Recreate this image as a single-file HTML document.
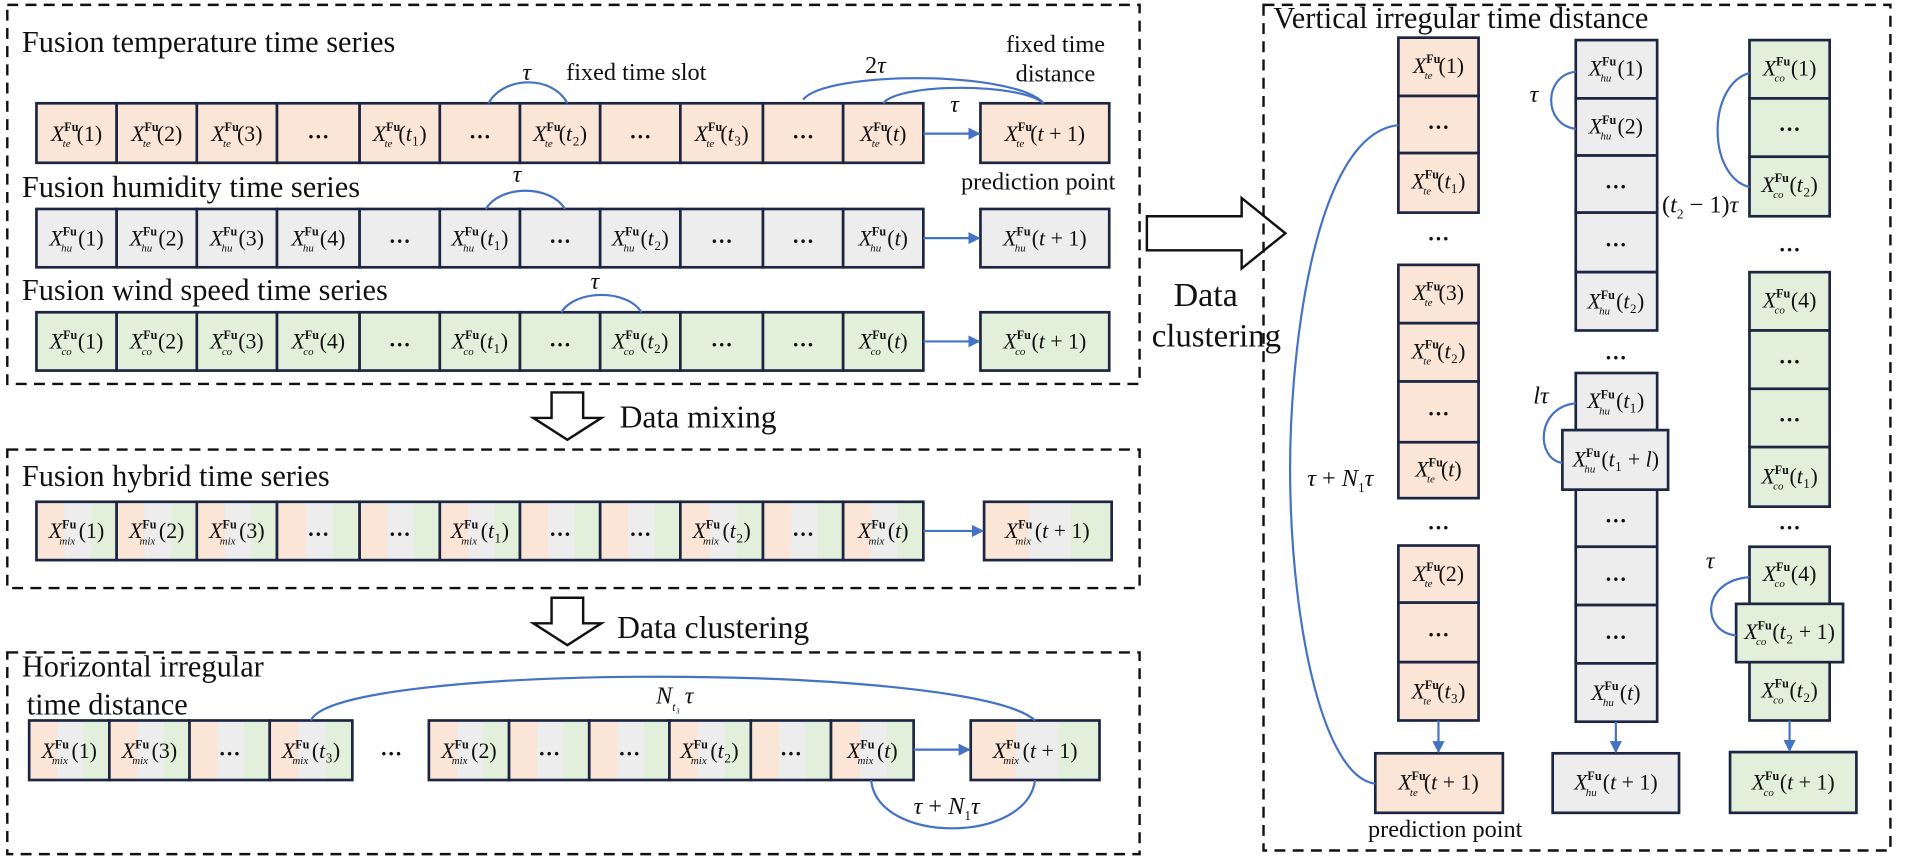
<!DOCTYPE html>
<html><head><meta charset="utf-8"><style>
html,body{margin:0;padding:0;background:#fff}
svg{display:block}
text{font-family:"Liberation Serif",serif;fill:#111}
.t{font-size:25px}
.m{font-size:18px;text-anchor:middle}
.i{font-style:italic}
.s{font-size:10px;font-weight:bold}
.b{font-size:9px;font-style:italic}
.d{font-size:18px;text-anchor:middle;font-weight:bold}
.dash{fill:none;stroke:#111;stroke-width:2;stroke-dasharray:9 6}
.o{fill:#fbe5d6;stroke:#1c2541;stroke-width:2.2}
.g{fill:#ededed;stroke:#1c2541;stroke-width:2.2}
.n{fill:#e2efda;stroke:#1c2541;stroke-width:2.2}
.x{fill:url(#mx);stroke:#1c2541;stroke-width:2.2}
.a{fill:none;stroke:#4472c4;stroke-width:1.8}
.big{fill:#fff;stroke:#111;stroke-width:2}
</style></head><body>
<svg width="1905" height="859" viewBox="0 0 1568 707" preserveAspectRatio="none" xmlns="http://www.w3.org/2000/svg">
<defs>
<linearGradient id="mx" x1="0" x2="1" y1="0" y2="0">
<stop offset="0" stop-color="#fbe5d6"/><stop offset="0.35" stop-color="#fbe5d6"/>
<stop offset="0.35" stop-color="#ededed"/><stop offset="0.68" stop-color="#ededed"/>
<stop offset="0.68" stop-color="#e2efda"/><stop offset="1" stop-color="#e2efda"/>
</linearGradient>
<marker id="ar" markerWidth="10" markerHeight="10" refX="9" refY="5" orient="auto" markerUnits="userSpaceOnUse"><path d="M0,0 L10,5 L0,10 z" fill="#4472c4"/></marker>
</defs>

<!-- Top box -->
<rect class="dash" x="6" y="4" width="932" height="312"/>
<text class="t" x="18" y="43">Fusion temperature time series</text>
<text class="t" x="18" y="162">Fusion humidity time series</text>
<text class="t" x="18" y="247">Fusion wind speed time series</text>

<!-- Row1 temperature -->
<g>
<rect class="o" x="30" y="85" width="66" height="49"/><rect class="o" x="96" y="85" width="66" height="49"/><rect class="o" x="162" y="85" width="66" height="49"/><rect class="o" x="228" y="85" width="68" height="49"/><rect class="o" x="296" y="85" width="66" height="49"/><rect class="o" x="362" y="85" width="66" height="49"/><rect class="o" x="428" y="85" width="66" height="49"/><rect class="o" x="494" y="85" width="66" height="49"/><rect class="o" x="560" y="85" width="68" height="49"/><rect class="o" x="628" y="85" width="66" height="49"/><rect class="o" x="694" y="85" width="66" height="49"/>
<rect class="o" x="807" y="85" width="106" height="49"/>
</g>
<text class="m" x="63" y="116"><tspan class="i">X</tspan><tspan class="s" dy="-8">Fu</tspan><tspan class="b" dx="-13" dy="13">te</tspan><tspan dx="5" dy="-5">(1)</tspan></text>
<text class="m" x="129" y="116"><tspan class="i">X</tspan><tspan class="s" dy="-8">Fu</tspan><tspan class="b" dx="-13" dy="13">te</tspan><tspan dx="5" dy="-5">(2)</tspan></text>
<text class="m" x="195" y="116"><tspan class="i">X</tspan><tspan class="s" dy="-8">Fu</tspan><tspan class="b" dx="-13" dy="13">te</tspan><tspan dx="5" dy="-5">(3)</tspan></text>
<text class="d" x="262" y="114">…</text>
<text class="m" x="329" y="116"><tspan class="i">X</tspan><tspan class="s" dy="-8">Fu</tspan><tspan class="b" dx="-13" dy="13">te</tspan><tspan dx="5" dy="-5">(<tspan class="i">t</tspan>₁)</tspan></text>
<text class="d" x="395" y="114">…</text>
<text class="m" x="461" y="116"><tspan class="i">X</tspan><tspan class="s" dy="-8">Fu</tspan><tspan class="b" dx="-13" dy="13">te</tspan><tspan dx="5" dy="-5">(<tspan class="i">t</tspan>₂)</tspan></text>
<text class="d" x="527" y="114">…</text>
<text class="m" x="594" y="116"><tspan class="i">X</tspan><tspan class="s" dy="-8">Fu</tspan><tspan class="b" dx="-13" dy="13">te</tspan><tspan dx="5" dy="-5">(<tspan class="i">t</tspan>₃)</tspan></text>
<text class="d" x="661" y="114">…</text>
<text class="m" x="727" y="116"><tspan class="i">X</tspan><tspan class="s" dy="-8">Fu</tspan><tspan class="b" dx="-13" dy="13">te</tspan><tspan dx="5" dy="-5">(<tspan class="i">t</tspan>)</tspan></text>
<text class="m" x="860" y="116"><tspan class="i">X</tspan><tspan class="s" dy="-8">Fu</tspan><tspan class="b" dx="-13" dy="13">te</tspan><tspan dx="5" dy="-5">(<tspan class="i">t</tspan> + 1)</tspan></text>
<line class="a" x1="760" y1="110" x2="806" y2="110" marker-end="url(#ar)"/>
<path class="a" d="M402,85 C415,62 455,62 467,85"/>
<text class="t i" x="430" y="66" style="font-size:20px">τ</text>
<text class="t" x="466" y="66" style="font-size:20px">fixed time slot</text>
<path class="a" d="M661,82 C680,58 835,58 859,85"/>
<path class="a" d="M727,85 C740,68 840,68 859,85"/>
<text class="t" x="712" y="60" style="font-size:20px">2<tspan class="i">τ</tspan></text>
<text class="t i" x="782" y="92" style="font-size:20px">τ</text>
<text class="t" x="828" y="43" style="font-size:20px">fixed time</text>
<text class="t" x="836" y="67" style="font-size:20px">distance</text>
<text class="t" x="791" y="156" style="font-size:20px">prediction point</text>

<!-- Row2 humidity -->
<g>
<rect class="g" x="30" y="172" width="66" height="48"/><rect class="g" x="96" y="172" width="66" height="48"/><rect class="g" x="162" y="172" width="66" height="48"/><rect class="g" x="228" y="172" width="68" height="48"/><rect class="g" x="296" y="172" width="66" height="48"/><rect class="g" x="362" y="172" width="66" height="48"/><rect class="g" x="428" y="172" width="66" height="48"/><rect class="g" x="494" y="172" width="66" height="48"/><rect class="g" x="560" y="172" width="68" height="48"/><rect class="g" x="628" y="172" width="66" height="48"/><rect class="g" x="694" y="172" width="66" height="48"/>
<rect class="g" x="807" y="172" width="106" height="48"/>
</g>
<text class="m" x="63" y="202"><tspan class="i">X</tspan><tspan class="s" dy="-8">Fu</tspan><tspan class="b" dx="-13" dy="13">hu</tspan><tspan dx="5" dy="-5">(1)</tspan></text>
<text class="m" x="129" y="202"><tspan class="i">X</tspan><tspan class="s" dy="-8">Fu</tspan><tspan class="b" dx="-13" dy="13">hu</tspan><tspan dx="5" dy="-5">(2)</tspan></text>
<text class="m" x="195" y="202"><tspan class="i">X</tspan><tspan class="s" dy="-8">Fu</tspan><tspan class="b" dx="-13" dy="13">hu</tspan><tspan dx="5" dy="-5">(3)</tspan></text>
<text class="m" x="262" y="202"><tspan class="i">X</tspan><tspan class="s" dy="-8">Fu</tspan><tspan class="b" dx="-13" dy="13">hu</tspan><tspan dx="5" dy="-5">(4)</tspan></text>
<text class="d" x="329" y="200">…</text>
<text class="m" x="395" y="202"><tspan class="i">X</tspan><tspan class="s" dy="-8">Fu</tspan><tspan class="b" dx="-13" dy="13">hu</tspan><tspan dx="5" dy="-5">(<tspan class="i">t</tspan>₁)</tspan></text>
<text class="d" x="461" y="200">…</text>
<text class="m" x="527" y="202"><tspan class="i">X</tspan><tspan class="s" dy="-8">Fu</tspan><tspan class="b" dx="-13" dy="13">hu</tspan><tspan dx="5" dy="-5">(<tspan class="i">t</tspan>₂)</tspan></text>
<text class="d" x="594" y="200">…</text>
<text class="d" x="661" y="200">…</text>
<text class="m" x="727" y="202"><tspan class="i">X</tspan><tspan class="s" dy="-8">Fu</tspan><tspan class="b" dx="-13" dy="13">hu</tspan><tspan dx="5" dy="-5">(<tspan class="i">t</tspan>)</tspan></text>
<text class="m" x="860" y="202"><tspan class="i">X</tspan><tspan class="s" dy="-8">Fu</tspan><tspan class="b" dx="-13" dy="13">hu</tspan><tspan dx="5" dy="-5">(<tspan class="i">t</tspan> + 1)</tspan></text>
<line class="a" x1="760" y1="196" x2="806" y2="196" marker-end="url(#ar)"/>
<path class="a" d="M400,172 C412,152 453,152 465,172"/>
<text class="t i" x="422" y="150" style="font-size:20px">τ</text>

<!-- Row3 wind -->
<g>
<rect class="n" x="30" y="257" width="66" height="48"/><rect class="n" x="96" y="257" width="66" height="48"/><rect class="n" x="162" y="257" width="66" height="48"/><rect class="n" x="228" y="257" width="68" height="48"/><rect class="n" x="296" y="257" width="66" height="48"/><rect class="n" x="362" y="257" width="66" height="48"/><rect class="n" x="428" y="257" width="66" height="48"/><rect class="n" x="494" y="257" width="66" height="48"/><rect class="n" x="560" y="257" width="68" height="48"/><rect class="n" x="628" y="257" width="66" height="48"/><rect class="n" x="694" y="257" width="66" height="48"/>
<rect class="n" x="807" y="257" width="106" height="48"/>
</g>
<text class="m" x="63" y="287"><tspan class="i">X</tspan><tspan class="s" dy="-8">Fu</tspan><tspan class="b" dx="-13" dy="13">co</tspan><tspan dx="5" dy="-5">(1)</tspan></text>
<text class="m" x="129" y="287"><tspan class="i">X</tspan><tspan class="s" dy="-8">Fu</tspan><tspan class="b" dx="-13" dy="13">co</tspan><tspan dx="5" dy="-5">(2)</tspan></text>
<text class="m" x="195" y="287"><tspan class="i">X</tspan><tspan class="s" dy="-8">Fu</tspan><tspan class="b" dx="-13" dy="13">co</tspan><tspan dx="5" dy="-5">(3)</tspan></text>
<text class="m" x="262" y="287"><tspan class="i">X</tspan><tspan class="s" dy="-8">Fu</tspan><tspan class="b" dx="-13" dy="13">co</tspan><tspan dx="5" dy="-5">(4)</tspan></text>
<text class="d" x="329" y="285">…</text>
<text class="m" x="395" y="287"><tspan class="i">X</tspan><tspan class="s" dy="-8">Fu</tspan><tspan class="b" dx="-13" dy="13">co</tspan><tspan dx="5" dy="-5">(<tspan class="i">t</tspan>₁)</tspan></text>
<text class="d" x="461" y="285">…</text>
<text class="m" x="527" y="287"><tspan class="i">X</tspan><tspan class="s" dy="-8">Fu</tspan><tspan class="b" dx="-13" dy="13">co</tspan><tspan dx="5" dy="-5">(<tspan class="i">t</tspan>₂)</tspan></text>
<text class="d" x="594" y="285">…</text>
<text class="d" x="661" y="285">…</text>
<text class="m" x="727" y="287"><tspan class="i">X</tspan><tspan class="s" dy="-8">Fu</tspan><tspan class="b" dx="-13" dy="13">co</tspan><tspan dx="5" dy="-5">(<tspan class="i">t</tspan>)</tspan></text>
<text class="m" x="860" y="287"><tspan class="i">X</tspan><tspan class="s" dy="-8">Fu</tspan><tspan class="b" dx="-13" dy="13">co</tspan><tspan dx="5" dy="-5">(<tspan class="i">t</tspan> + 1)</tspan></text>
<line class="a" x1="760" y1="281" x2="806" y2="281" marker-end="url(#ar)"/>
<path class="a" d="M462,257 C474,238 516,238 528,257"/>
<text class="t i" x="486" y="238" style="font-size:20px">τ</text>

<!-- Right big arrow -->
<path class="big" d="M944,178 L1022,178 L1022,163 L1058,192 L1022,221 L1022,206 L944,206 Z"/>
<text class="t" x="966" y="252" style="font-size:28px">Data</text>
<text class="t" x="948" y="285" style="font-size:27px">clustering</text>

<!-- Down arrow 1 -->
<path class="big" d="M454,323 L480,323 L480,344 L495,344 L467,362 L439,344 L454,344 Z"/>
<text class="t" x="510" y="352" style="font-size:26px">Data mixing</text>

<!-- Hybrid box -->
<rect class="dash" x="6" y="370" width="932" height="114"/>
<text class="t" x="18" y="400">Fusion hybrid time series</text>
<g>
<rect class="x" x="30" y="413" width="66" height="48"/><rect class="x" x="96" y="413" width="66" height="48"/><rect class="x" x="162" y="413" width="66" height="48"/><rect class="x" x="228" y="413" width="68" height="48"/><rect class="x" x="296" y="413" width="66" height="48"/><rect class="x" x="362" y="413" width="66" height="48"/><rect class="x" x="428" y="413" width="66" height="48"/><rect class="x" x="494" y="413" width="66" height="48"/><rect class="x" x="560" y="413" width="68" height="48"/><rect class="x" x="628" y="413" width="66" height="48"/><rect class="x" x="694" y="413" width="66" height="48"/>
<rect class="x" x="810" y="413" width="105" height="48"/>
</g>
<text class="m" x="63" y="443"><tspan class="i">X</tspan><tspan class="s" dy="-8">Fu</tspan><tspan class="b" dx="-14" dy="13">mix</tspan><tspan dx="3" dy="-5">(1)</tspan></text>
<text class="m" x="129" y="443"><tspan class="i">X</tspan><tspan class="s" dy="-8">Fu</tspan><tspan class="b" dx="-14" dy="13">mix</tspan><tspan dx="3" dy="-5">(2)</tspan></text>
<text class="m" x="195" y="443"><tspan class="i">X</tspan><tspan class="s" dy="-8">Fu</tspan><tspan class="b" dx="-14" dy="13">mix</tspan><tspan dx="3" dy="-5">(3)</tspan></text>
<text class="d" x="262" y="441">…</text>
<text class="d" x="329" y="441">…</text>
<text class="m" x="395" y="443"><tspan class="i">X</tspan><tspan class="s" dy="-8">Fu</tspan><tspan class="b" dx="-14" dy="13">mix</tspan><tspan dx="3" dy="-5">(<tspan class="i">t</tspan>₁)</tspan></text>
<text class="d" x="461" y="441">…</text>
<text class="d" x="527" y="441">…</text>
<text class="m" x="594" y="443"><tspan class="i">X</tspan><tspan class="s" dy="-8">Fu</tspan><tspan class="b" dx="-14" dy="13">mix</tspan><tspan dx="3" dy="-5">(<tspan class="i">t</tspan>₂)</tspan></text>
<text class="d" x="661" y="441">…</text>
<text class="m" x="727" y="443"><tspan class="i">X</tspan><tspan class="s" dy="-8">Fu</tspan><tspan class="b" dx="-14" dy="13">mix</tspan><tspan dx="3" dy="-5">(<tspan class="i">t</tspan>)</tspan></text>
<text class="m" x="862" y="443"><tspan class="i">X</tspan><tspan class="s" dy="-8">Fu</tspan><tspan class="b" dx="-14" dy="13">mix</tspan><tspan dx="3" dy="-5">(<tspan class="i">t</tspan> + 1)</tspan></text>
<line class="a" x1="760" y1="437" x2="809" y2="437" marker-end="url(#ar)"/>

<!-- Down arrow 2 -->
<path class="big" d="M454,492 L480,492 L480,513 L495,513 L467,531 L439,513 L454,513 Z"/>
<text class="t" x="508" y="525" style="font-size:26px">Data clustering</text>

<!-- Horizontal box -->
<rect class="dash" x="6" y="537" width="932" height="166"/>
<text class="t" x="18" y="557">Horizontal irregular</text>
<text class="t" x="22" y="588">time distance</text>
<g>
<rect class="x" x="24" y="593" width="66" height="49"/><rect class="x" x="90" y="593" width="66" height="49"/><rect class="x" x="156" y="593" width="66" height="49"/><rect class="x" x="222" y="593" width="68" height="49"/>
<rect class="x" x="353" y="593" width="66" height="49"/><rect class="x" x="419" y="593" width="66" height="49"/><rect class="x" x="485" y="593" width="66" height="49"/><rect class="x" x="551" y="593" width="67" height="49"/><rect class="x" x="618" y="593" width="66" height="49"/><rect class="x" x="684" y="593" width="68" height="49"/>
<rect class="x" x="799" y="593" width="106" height="49"/>
</g>
<text class="m" x="57" y="624"><tspan class="i">X</tspan><tspan class="s" dy="-8">Fu</tspan><tspan class="b" dx="-14" dy="13">mix</tspan><tspan dx="3" dy="-5">(1)</tspan></text>
<text class="m" x="123" y="624"><tspan class="i">X</tspan><tspan class="s" dy="-8">Fu</tspan><tspan class="b" dx="-14" dy="13">mix</tspan><tspan dx="3" dy="-5">(3)</tspan></text>
<text class="d" x="189" y="622">…</text>
<text class="m" x="256" y="624"><tspan class="i">X</tspan><tspan class="s" dy="-8">Fu</tspan><tspan class="b" dx="-14" dy="13">mix</tspan><tspan dx="3" dy="-5">(<tspan class="i">t</tspan>₃)</tspan></text>
<text class="d" x="322" y="622">…</text>
<text class="m" x="386" y="624"><tspan class="i">X</tspan><tspan class="s" dy="-8">Fu</tspan><tspan class="b" dx="-14" dy="13">mix</tspan><tspan dx="3" dy="-5">(2)</tspan></text>
<text class="d" x="452" y="622">…</text>
<text class="d" x="518" y="622">…</text>
<text class="m" x="584" y="624"><tspan class="i">X</tspan><tspan class="s" dy="-8">Fu</tspan><tspan class="b" dx="-14" dy="13">mix</tspan><tspan dx="3" dy="-5">(<tspan class="i">t</tspan>₂)</tspan></text>
<text class="d" x="651" y="622">…</text>
<text class="m" x="718" y="624"><tspan class="i">X</tspan><tspan class="s" dy="-8">Fu</tspan><tspan class="b" dx="-14" dy="13">mix</tspan><tspan dx="3" dy="-5">(<tspan class="i">t</tspan>)</tspan></text>
<text class="m" x="852" y="624"><tspan class="i">X</tspan><tspan class="s" dy="-8">Fu</tspan><tspan class="b" dx="-14" dy="13">mix</tspan><tspan dx="3" dy="-5">(<tspan class="i">t</tspan> + 1)</tspan></text>
<line class="a" x1="752" y1="617" x2="798" y2="617" marker-end="url(#ar)"/>
<path class="a" d="M256,593 C275,545 800,545 852,593"/>
<text class="t i" x="540" y="579" style="font-size:20px">N<tspan style="font-size:10px" dy="6">t₃</tspan><tspan dy="-6" dx="4">τ</tspan></text>
<path class="a" d="M717,642 C722,695 845,695 852,642"/>
<text class="t" x="752" y="670" style="font-size:20px"><tspan class="i">τ</tspan> + <tspan class="i">N</tspan><tspan style="font-size:11px" dy="5">1</tspan><tspan class="i" dy="-5">τ</tspan></text>

<!-- Right box -->
<rect class="dash" x="1040" y="4" width="516" height="696"/>
<text class="t" x="1048" y="23">Vertical irregular time distance</text>

<!-- Col1 orange -->
<g>
<rect class="o" x="1151" y="31" width="66" height="48"/><rect class="o" x="1151" y="79" width="66" height="47"/><rect class="o" x="1151" y="126" width="66" height="49"/>
<rect class="o" x="1151" y="218" width="66" height="48"/><rect class="o" x="1151" y="266" width="66" height="48"/><rect class="o" x="1151" y="314" width="66" height="50"/><rect class="o" x="1151" y="364" width="66" height="46"/>
<rect class="o" x="1151" y="449" width="66" height="47"/><rect class="o" x="1151" y="496" width="66" height="49"/><rect class="o" x="1151" y="545" width="66" height="48"/>
<rect class="o" x="1132" y="620" width="105" height="49"/>
</g>
<text class="m" x="1184" y="60"><tspan class="i">X</tspan><tspan class="s" dy="-8">Fu</tspan><tspan class="b" dx="-13" dy="13">te</tspan><tspan dx="5" dy="-5">(1)</tspan></text>
<text class="d" x="1184" y="106">…</text>
<text class="m" x="1184" y="155"><tspan class="i">X</tspan><tspan class="s" dy="-8">Fu</tspan><tspan class="b" dx="-13" dy="13">te</tspan><tspan dx="5" dy="-5">(<tspan class="i">t</tspan>₁)</tspan></text>
<text class="d" x="1184" y="198">…</text>
<text class="m" x="1184" y="247"><tspan class="i">X</tspan><tspan class="s" dy="-8">Fu</tspan><tspan class="b" dx="-13" dy="13">te</tspan><tspan dx="5" dy="-5">(3)</tspan></text>
<text class="m" x="1184" y="295"><tspan class="i">X</tspan><tspan class="s" dy="-8">Fu</tspan><tspan class="b" dx="-13" dy="13">te</tspan><tspan dx="5" dy="-5">(<tspan class="i">t</tspan>₂)</tspan></text>
<text class="d" x="1184" y="342">…</text>
<text class="m" x="1184" y="392"><tspan class="i">X</tspan><tspan class="s" dy="-8">Fu</tspan><tspan class="b" dx="-13" dy="13">te</tspan><tspan dx="5" dy="-5">(<tspan class="i">t</tspan>)</tspan></text>
<text class="d" x="1184" y="436">…</text>
<text class="m" x="1184" y="478"><tspan class="i">X</tspan><tspan class="s" dy="-8">Fu</tspan><tspan class="b" dx="-13" dy="13">te</tspan><tspan dx="5" dy="-5">(2)</tspan></text>
<text class="d" x="1184" y="524">…</text>
<text class="m" x="1184" y="575"><tspan class="i">X</tspan><tspan class="s" dy="-8">Fu</tspan><tspan class="b" dx="-13" dy="13">te</tspan><tspan dx="5" dy="-5">(<tspan class="i">t</tspan>₃)</tspan></text>
<text class="m" x="1184" y="650"><tspan class="i">X</tspan><tspan class="s" dy="-8">Fu</tspan><tspan class="b" dx="-13" dy="13">te</tspan><tspan dx="5" dy="-5">(<tspan class="i">t</tspan> + 1)</tspan></text>
<line class="a" x1="1184" y1="593" x2="1184" y2="619" marker-end="url(#ar)"/>
<path class="a" d="M1151,103 C1080,110 1060,300 1062,400 C1064,520 1090,640 1132,645"/>
<text class="t" x="1076" y="400" style="font-size:20px"><tspan class="i">τ</tspan> + <tspan class="i">N</tspan><tspan style="font-size:11px" dy="5">1</tspan><tspan class="i" dy="-5">τ</tspan></text>
<text class="t" x="1126" y="689" style="font-size:20px">prediction point</text>

<!-- Col2 gray -->
<g>
<rect class="g" x="1297" y="33" width="67" height="48"/><rect class="g" x="1297" y="81" width="67" height="47"/><rect class="g" x="1297" y="128" width="67" height="47"/><rect class="g" x="1297" y="175" width="67" height="49"/><rect class="g" x="1297" y="224" width="67" height="48"/>
<rect class="g" x="1297" y="307" width="67" height="47"/>
<rect class="g" x="1297" y="403" width="67" height="47"/><rect class="g" x="1297" y="450" width="67" height="48"/><rect class="g" x="1297" y="498" width="67" height="48"/><rect class="g" x="1297" y="546" width="67" height="48"/>
<rect class="g" x="1286" y="354" width="87" height="49"/>
<rect class="g" x="1278" y="620" width="104" height="49"/>
</g>
<text class="m" x="1330" y="62"><tspan class="i">X</tspan><tspan class="s" dy="-8">Fu</tspan><tspan class="b" dx="-13" dy="13">hu</tspan><tspan dx="5" dy="-5">(1)</tspan></text>
<text class="m" x="1330" y="110"><tspan class="i">X</tspan><tspan class="s" dy="-8">Fu</tspan><tspan class="b" dx="-13" dy="13">hu</tspan><tspan dx="5" dy="-5">(2)</tspan></text>
<text class="d" x="1330" y="155">…</text>
<text class="d" x="1330" y="203">…</text>
<text class="m" x="1330" y="254"><tspan class="i">X</tspan><tspan class="s" dy="-8">Fu</tspan><tspan class="b" dx="-13" dy="13">hu</tspan><tspan dx="5" dy="-5">(<tspan class="i">t</tspan>₂)</tspan></text>
<text class="d" x="1330" y="296">…</text>
<text class="m" x="1330" y="336"><tspan class="i">X</tspan><tspan class="s" dy="-8">Fu</tspan><tspan class="b" dx="-13" dy="13">hu</tspan><tspan dx="5" dy="-5">(<tspan class="i">t</tspan>₁)</tspan></text>
<text class="m" x="1330" y="384"><tspan class="i">X</tspan><tspan class="s" dy="-8">Fu</tspan><tspan class="b" dx="-13" dy="13">hu</tspan><tspan dx="5" dy="-5">(<tspan class="i">t</tspan>₁ + <tspan class="i">l</tspan>)</tspan></text>
<text class="d" x="1330" y="430">…</text>
<text class="d" x="1330" y="478">…</text>
<text class="d" x="1330" y="526">…</text>
<text class="m" x="1330" y="576"><tspan class="i">X</tspan><tspan class="s" dy="-8">Fu</tspan><tspan class="b" dx="-13" dy="13">hu</tspan><tspan dx="5" dy="-5">(<tspan class="i">t</tspan>)</tspan></text>
<text class="m" x="1330" y="650"><tspan class="i">X</tspan><tspan class="s" dy="-8">Fu</tspan><tspan class="b" dx="-13" dy="13">hu</tspan><tspan dx="5" dy="-5">(<tspan class="i">t</tspan> + 1)</tspan></text>
<line class="a" x1="1330" y1="594" x2="1330" y2="619" marker-end="url(#ar)"/>
<path class="a" d="M1297,59 C1270,62 1270,103 1297,106"/>
<text class="t i" x="1259" y="84" style="font-size:20px">τ</text>
<path class="a" d="M1297,332 C1264,335 1264,378 1286,381"/>
<text class="t i" x="1262" y="332" style="font-size:20px">lτ</text>
<text class="t" x="1368" y="175" style="font-size:20px">(<tspan class="i">t</tspan><tspan style="font-size:11px" dy="5">2</tspan><tspan dy="-5"> − 1)</tspan><tspan class="i">τ</tspan></text>

<!-- Col3 green -->
<g>
<rect class="n" x="1440" y="33" width="66" height="48"/><rect class="n" x="1440" y="81" width="66" height="48"/><rect class="n" x="1440" y="129" width="66" height="49"/>
<rect class="n" x="1440" y="224" width="66" height="48"/><rect class="n" x="1440" y="272" width="66" height="48"/><rect class="n" x="1440" y="320" width="66" height="48"/><rect class="n" x="1440" y="368" width="66" height="49"/>
<rect class="n" x="1440" y="450" width="66" height="47"/><rect class="n" x="1440" y="545" width="66" height="48"/>
<rect class="n" x="1429" y="497" width="88" height="48"/>
<rect class="n" x="1424" y="619" width="104" height="50"/>
</g>
<text class="m" x="1473" y="62"><tspan class="i">X</tspan><tspan class="s" dy="-8">Fu</tspan><tspan class="b" dx="-13" dy="13">co</tspan><tspan dx="5" dy="-5">(1)</tspan></text>
<text class="d" x="1473" y="108">…</text>
<text class="m" x="1473" y="158"><tspan class="i">X</tspan><tspan class="s" dy="-8">Fu</tspan><tspan class="b" dx="-13" dy="13">co</tspan><tspan dx="5" dy="-5">(<tspan class="i">t</tspan>₂)</tspan></text>
<text class="d" x="1473" y="207">…</text>
<text class="m" x="1473" y="253"><tspan class="i">X</tspan><tspan class="s" dy="-8">Fu</tspan><tspan class="b" dx="-13" dy="13">co</tspan><tspan dx="5" dy="-5">(4)</tspan></text>
<text class="d" x="1473" y="299">…</text>
<text class="d" x="1473" y="347">…</text>
<text class="m" x="1473" y="398"><tspan class="i">X</tspan><tspan class="s" dy="-8">Fu</tspan><tspan class="b" dx="-13" dy="13">co</tspan><tspan dx="5" dy="-5">(<tspan class="i">t</tspan>₁)</tspan></text>
<text class="d" x="1473" y="436">…</text>
<text class="m" x="1473" y="478"><tspan class="i">X</tspan><tspan class="s" dy="-8">Fu</tspan><tspan class="b" dx="-13" dy="13">co</tspan><tspan dx="5" dy="-5">(4)</tspan></text>
<text class="m" x="1473" y="526"><tspan class="i">X</tspan><tspan class="s" dy="-8">Fu</tspan><tspan class="b" dx="-13" dy="13">co</tspan><tspan dx="5" dy="-5">(<tspan class="i">t</tspan>₂ + 1)</tspan></text>
<text class="m" x="1473" y="574"><tspan class="i">X</tspan><tspan class="s" dy="-8">Fu</tspan><tspan class="b" dx="-13" dy="13">co</tspan><tspan dx="5" dy="-5">(<tspan class="i">t</tspan>₂)</tspan></text>
<text class="m" x="1476" y="650"><tspan class="i">X</tspan><tspan class="s" dy="-8">Fu</tspan><tspan class="b" dx="-13" dy="13">co</tspan><tspan dx="5" dy="-5">(<tspan class="i">t</tspan> + 1)</tspan></text>
<line class="a" x1="1473" y1="593" x2="1473" y2="618" marker-end="url(#ar)"/>
<path class="a" d="M1440,60 C1405,70 1405,145 1440,154"/>
<path class="a" d="M1440,475 C1400,478 1400,520 1429,523"/>
<text class="t i" x="1404" y="468" style="font-size:20px">τ</text>
</svg>
</body></html>
